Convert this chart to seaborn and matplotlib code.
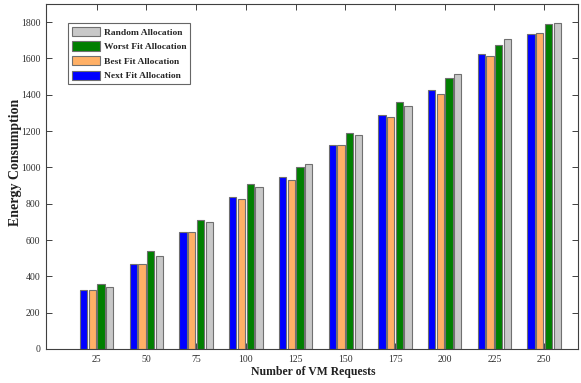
import matplotlib
matplotlib.use("Agg")
import matplotlib.pyplot as plt
import seaborn as sns
import pandas as pd

requests = ["25", "50", "75", "100", "125", "150", "175", "200", "225", "250"]
next_fit = [325, 466, 643, 835, 946, 1123, 1286, 1425, 1627, 1737]
best_fit = [325, 466, 643, 825, 928, 1123, 1275, 1407, 1614, 1741]
worst_fit = [358, 538, 710, 906, 1001, 1192, 1358, 1495, 1673, 1792]
random_alloc = [343, 512, 700, 891, 1018, 1178, 1341, 1517, 1708, 1796]

series = ["Next Fit Allocation", "Best Fit Allocation",
          "Worst Fit Allocation", "Random Allocation"]
colors = ["#0000FF", "#FFB066", "#007F00", "#C8C8C8"]

rows = []
for name, vals in zip(series, [next_fit, best_fit, worst_fit, random_alloc]):
    for r, v in zip(requests, vals):
        rows.append({"requests": r, "energy": v, "method": name})
df = pd.DataFrame(rows)

sns.set_theme(style="white")
serif = ["Liberation Serif", "DejaVu Serif"]
plt.rcParams["font.family"] = serif

W, H = 581, 383
fig = plt.figure(figsize=(W / 100, H / 100), dpi=100)
ax = fig.add_axes([46 / W, 34 / H, 532 / W, 345 / H])

sns.barplot(data=df, x="requests", y="energy", hue="method",
            hue_order=series, order=requests, palette=colors,
            width=0.7, gap=0.16, edgecolor="#707070", linewidth=0.8,
            saturation=1, ax=ax, errorbar=None)

ax.set_xlim(-1.02, 9.68)
ax.set_ylim(0, 1900)
ax.set_yticks(range(0, 1801, 200))
ax.set_xlabel("")
ax.set_ylabel("")
fig.text(313 / W, 1 - 372 / H, "Number of VM Requests", fontsize=8.5,
         fontweight="bold", ha="center", va="center", color="#202020")
fig.text(16 / W, 1 - 162 / H, "Energy Consumption", fontsize=10,
         fontweight="bold", ha="center", va="center", rotation=90, color="#202020")

for s in ax.spines.values():
    s.set_visible(True)
    s.set_color("#404040")
    s.set_linewidth(0.8)

ax.tick_params(direction="in", length=4, width=0.7, color="#404040",
               labelsize=7, labelcolor="#303030", top=True, right=True,
               bottom=True, left=True, pad=4)

handles, labels = ax.get_legend_handles_labels()
leg = ax.legend(handles[::-1], labels[::-1], loc="upper left",
                bbox_to_anchor=(22 / 532, 1 - 19 / 345), frameon=True, fancybox=False,
                edgecolor="#404040", prop={"family": serif, "weight": "bold", "size": 6.8},
                handlelength=3.0, handleheight=1.15, labelspacing=0.5,
                borderpad=0.4, handletextpad=0.4, borderaxespad=0)
leg.get_frame().set_linewidth(0.8)

fig.savefig("out.png", dpi=100)
